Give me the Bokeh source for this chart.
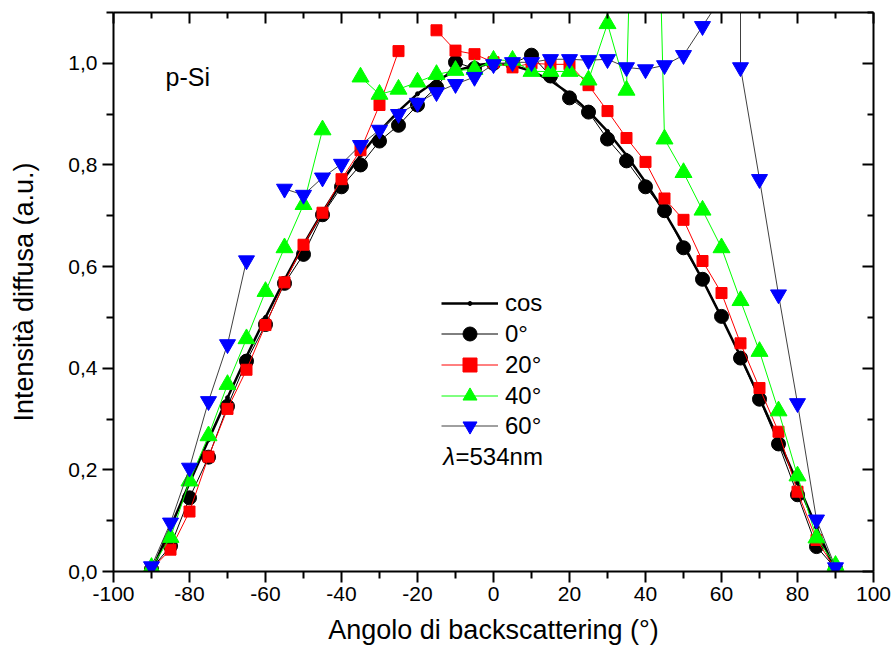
import numpy as np
from bokeh.plotting import figure
from bokeh.models import (Range1d, LinearAxis, FixedTicker, CustomJSTickFormatter,
                          Legend, LegendItem, Label, ColumnDataSource)
from bokeh.embed import file_html
from bokeh.resources import INLINE

NaN = float("nan")

# ---------------- data ----------------
angles = [-90, -85, -80, -75, -70, -65, -60, -55, -50, -45, -40, -35, -30, -25, -20, -15, -10, -5,
          0, 5, 10, 15, 20, 25, 30, 35, 40, 45, 50, 55, 60, 65, 70, 75, 80, 85, 90]

cos_vals = [0.000, 0.087, 0.174, 0.259, 0.342, 0.423, 0.500, 0.574, 0.643, 0.707, 0.766, 0.819,
            0.866, 0.906, 0.940, 0.966, 0.985, 0.996, 1.000, 0.996, 0.985, 0.966, 0.940, 0.906,
            0.866, 0.819, 0.766, 0.707, 0.643, 0.574, 0.500, 0.423, 0.342, 0.259, 0.174, 0.087, 0.000]

i_0deg = [0.005, 0.050, 0.145, 0.225, 0.325, 0.414, 0.486, 0.567, 0.624, 0.702, 0.757, 0.800,
          0.847, 0.878, 0.918, 0.953, 1.002, 0.990, 1.000, 1.000, 1.016, 0.975, 0.932, 0.904,
          0.851, 0.808, 0.757, 0.710, 0.637, 0.575, 0.502, 0.420, 0.339, 0.251, 0.151, 0.049, 0.006]

i_20deg = [0.005, 0.043, 0.118, 0.226, 0.320, 0.397, 0.485, 0.569, 0.643, 0.706, 0.772, 0.829,
           0.918, 1.024, NaN, 1.065, 1.025, 1.018, 1.002, 0.992, 1.000, 0.998, 0.998, 0.957,
           0.906, 0.853, 0.806, 0.734, 0.692, 0.611, 0.548, 0.449, 0.361, 0.275, 0.157, 0.062, 0.005]

i_40deg = [0.008, 0.067, 0.178, 0.267, 0.368, 0.458, 0.551, 0.637, 0.722, 0.869, NaN, 0.973,
           0.939, 0.949, 0.963, 0.978, 0.986, 0.988, 1.006, 1.006, 0.984, 0.984, 0.984, 0.967,
           1.078, 0.947, 2.350, 0.851, 0.785, 0.711, 0.637, 0.533, 0.433, 0.316, 0.188, 0.066, 0.012]

angles_60 = [-90, -85, -80, -75, -70, -65, -60, -55, -50, -45, -40, -35, -30, -25, -20, -15, -10, -5,
             0, 5, 10, 15, 20, 25, 30, 35, 40, 45, 50, 55, 60, 65, 65, 70, 75, 80, 85, 90]
i_60deg = [0.010, 0.096, 0.204, 0.335, 0.447, 0.612, NaN, 0.753, 0.741, 0.775, 0.802, 0.839,
           0.869, 0.900, 0.922, 0.943, 0.959, 0.973, 0.998, 1.002, 1.002, 1.008, 1.008, 1.006,
           1.008, 0.992, 0.988, 0.996, 1.016, 1.073, 1.130, 5.000, 0.992, 0.772, 0.545, 0.331,
           0.102, 0.008]

x_major = [-100, -80, -60, -40, -20, 0, 20, 40, 60, 80, 100]
x_minor = [-90, -70, -50, -30, -10, 10, 30, 50, 70, 90]
y_major = [0.0, 0.2, 0.4, 0.6, 0.8, 1.0]
y_minor = [0.1, 0.3, 0.5, 0.7, 0.9, 1.1]

FONT = "Liberation Sans"

p = figure(width=893, height=651, output_backend="svg", toolbar_location=None,
           x_range=Range1d(-100, 100), y_range=Range1d(0, 1.1),
           min_border_left=113, min_border_right=20, min_border_top=12, min_border_bottom=80)
p.xgrid.visible = False
p.ygrid.visible = False
p.outline_line_color = None
p.background_fill_color = "white"
p.border_fill_color = "white"

xt = FixedTicker(ticks=x_major, minor_ticks=x_minor)
yt = FixedTicker(ticks=y_major, minor_ticks=y_minor)

fmt_y = CustomJSTickFormatter(code="return tick.toFixed(1).replace('.', ',');")
fmt_x = CustomJSTickFormatter(code="return tick.toFixed(0);")
fmt_none = CustomJSTickFormatter(code="return '';")

def style_axis(ax, outward=True):
    ax.axis_line_width = 2
    ax.axis_line_color = "black"
    ax.major_tick_line_width = 2
    ax.minor_tick_line_width = 2
    ax.major_tick_line_color = "black"
    ax.minor_tick_line_color = "black"
    if outward:
        ax.major_tick_out, ax.major_tick_in = 11, 0
        ax.minor_tick_out, ax.minor_tick_in = 7, 0
    else:
        ax.major_tick_out, ax.major_tick_in = 0, 11
        ax.minor_tick_out, ax.minor_tick_in = 0, 6

xa = p.xaxis[0]
xa.ticker = xt
xa.formatter = fmt_x
style_axis(xa)
xa.major_label_text_font = FONT
xa.major_label_text_font_size = "21px"
xa.major_label_text_color = "black"
xa.major_label_standoff = 4
xa.axis_label = "Angolo di backscattering (°)"
xa.axis_label_text_font = FONT
xa.axis_label_text_font_size = "27px"
xa.axis_label_text_font_style = "normal"
xa.axis_label_text_color = "black"
xa.axis_label_standoff = 11

ya = p.yaxis[0]
ya.ticker = yt
ya.formatter = fmt_y
style_axis(ya)
ya.major_label_text_font = FONT
ya.major_label_text_font_size = "21px"
ya.major_label_text_color = "black"
ya.major_label_standoff = 5
ya.axis_label = "Intensità diffusa (a.u.)"
ya.axis_label_text_font = FONT
ya.axis_label_text_font_size = "27px"
ya.axis_label_text_font_style = "normal"
ya.axis_label_text_color = "black"
ya.axis_label_standoff = 26

top = LinearAxis(ticker=xt, formatter=fmt_none, major_label_standoff=0)
style_axis(top, outward=False)
p.add_layout(top, "above")
right = LinearAxis(ticker=yt, formatter=fmt_none, major_label_standoff=0)
style_axis(right, outward=False)
p.add_layout(right, "right")

src = ColumnDataSource(dict(
    x=np.array(angles, dtype=float),
    cos=np.array(cos_vals, dtype=float),
    i0=np.array(i_0deg, dtype=float),
    i20=np.array(i_20deg, dtype=float),
    i40=np.array(i_40deg, dtype=float),
))
src60 = ColumnDataSource(dict(x=np.array(angles_60, dtype=float), y=np.array(i_60deg, dtype=float)))

r_cos_l = p.line("x", "cos", source=src, line_color="black", line_width=2.5)
r_cos_m = p.scatter("x", "cos", source=src, marker="circle", size=4, fill_color="black", line_color="black")

r0_l = p.line("x", "i0", source=src, line_color="black", line_width=1)
r0_m = p.scatter("x", "i0", source=src, marker="circle", size=14, fill_color="black", line_color="black")

r20_l = p.line("x", "i20", source=src, line_color="#FF0000", line_width=1)
r20_m = p.scatter("x", "i20", source=src, marker="square", size=11, fill_color="#FF0000", line_color="#FF0000")

r40_l = p.line("x", "i40", source=src, line_color="#00FF00", line_width=1)
r40_m = p.scatter("x", "i40", source=src, marker="triangle", size=17, fill_color="#00FF00", line_color="#00FF00")

r60_l = p.line("x", "y", source=src60, line_color="#404040", line_width=1)
r60_m = p.scatter("x", "y", source=src60, marker="inverted_triangle", size=16, fill_color="#0000FF", line_color="#0000FF")

def mk_legend(label, renderers, loc, gh):
    return Legend(items=[LegendItem(label=label, renderers=renderers)], location=loc,
                  glyph_width=57, glyph_height=gh, spacing=0,
                  padding=0, margin=0, border_line_color=None, background_fill_alpha=0,
                  label_standoff=7, label_text_font=FONT, label_text_font_size="24px",
                  label_text_color="black")

# one legend block per entry, stacked as in the reference
p.add_layout(mk_legend("cos", [r_cos_l, r_cos_m], (328, 254), 10))
p.add_layout(mk_legend("0°", [r0_l, r0_m], (328, 220), 35))
p.add_layout(mk_legend("20°", [r20_l, r20_m], (328, 189), 35))
p.add_layout(mk_legend("40°", [r40_l, r40_m], (328, 158), 35))
p.add_layout(mk_legend("60°", [r60_l, r60_m], (328, 128), 35))

p.add_layout(Label(x=-86.3, y=0.973, text="p-Si", text_font=FONT, text_font_size="25px",
                   text_baseline="middle", text_color="black"))
p.add_layout(Label(x=-13.2, y=0.227, text="λ", text_font=FONT, text_font_size="24px",
                   text_font_style="italic", text_baseline="middle", text_color="black"))
p.add_layout(Label(x=-10.0, y=0.227, text="=534nm", text_font=FONT, text_font_size="24px",
                   text_baseline="middle", text_color="black"))

open("out.html", "w").write(file_html(p, INLINE))
